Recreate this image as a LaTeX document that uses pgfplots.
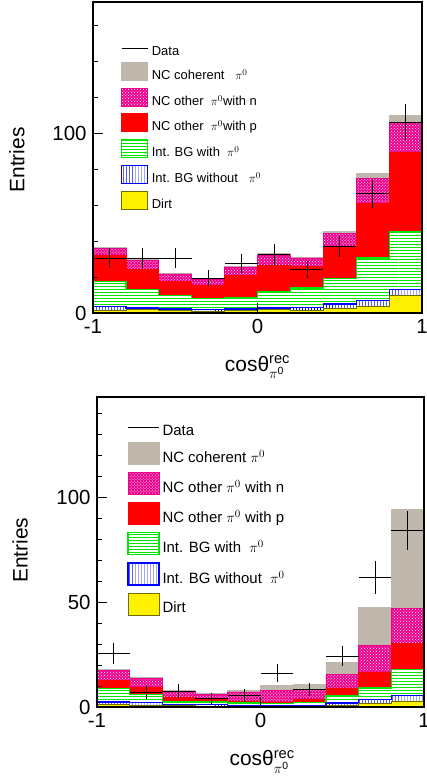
\documentclass[border=0pt]{standalone}
\usepackage{amsmath}
\usepackage{fontspec}
\setmainfont{Liberation Sans}
\usepackage{pgfplots}
\usepackage{pgfplotstable}
\pgfplotsset{compat=1.18}
\usetikzlibrary{patterns}

\definecolor{cohgray}{RGB}{191,182,172}
\definecolor{dirtedge}{RGB}{110,110,0}
\definecolor{bggreen}{RGB}{0,230,0}

% cumulative stacked tops per bin (left edges, last row repeats last bin)
\pgfplotstableread{
x coh oth oph bgp bgn dirt
-1.0 36.7 36.1 31.9 17.6 3.5 1.5
-0.8 30.6 29.1 24.4 13.0 2.8 1.9
-0.6 22.2 21.7 17.6 9.6 2.2 1.5
-0.4 19.4 18.9 15.2 8.1 1.9 0.9
-0.2 26.1 25.6 21.1 8.7 2.2 1.5
0.0 33.3 31.9 26.3 12.0 2.8 1.9
0.2 31.1 30.6 25.9 13.9 3.1 1.5
0.4 45.4 44.4 37.0 19.4 5.0 2.8
0.6 77.4 74.6 61.1 30.6 6.9 3.7
0.8 109.8 106.1 89.4 45.4 13.0 9.6
1.0 109.8 106.1 89.4 45.4 13.0 9.6
}\toptab
\pgfplotstableread{
x y e
-0.9 30.4 5.5
-0.7 30.4 5.5
-0.5 30.4 5.5
-0.3 19.3 4.4
-0.1 27.8 5.3
0.1 32.6 5.7
0.3 24.1 4.9
0.5 37.0 5.7
0.7 66.3 7.9
0.9 106.1 10.0
}\topdata
\pgfplotstableread{
x coh oth oph bgp bgn dirt
-1.0 18.0 17.3 12.5 8.8 2.4 1.1
-0.8 14.1 13.6 9.6 6.1 2.1 0.8
-0.6 8.0 7.5 4.5 2.4 1.3 0.6
-0.4 6.3 5.9 3.9 2.4 1.1 0.5
-0.2 8.0 7.2 2.9 1.9 0.8 0.3
0.0 10.1 8.0 2.4 1.6 0.6 0.3
0.2 10.9 8.3 3.5 2.1 0.6 0.3
0.4 21.3 15.7 9.1 5.6 1.9 1.0
0.6 47.4 29.2 16.4 9.1 3.5 1.6
0.8 94.4 46.9 30.2 18.0 5.6 2.9
1.0 94.4 46.9 30.2 18.0 5.6 2.9
}\bottab
\pgfplotstableread{
x y e
-0.9 25.7 5.0
-0.7 7.2 3.2
-0.5 7.7 3.2
-0.3 4.0 2.6
-0.1 5.6 3.0
0.1 16.1 4.3
0.3 8.5 3.2
0.5 24.4 4.8
0.7 61.8 7.8
0.9 84.3 9.3
}\botdata

\newcommand{\lgt}[1]{\raisebox{-4bp}[\height][\depth]{#1}}

\pgfplotsset{
  myaxis/.style={
    scale only axis, xmin=-1, xmax=1, ymin=0,
    enlargelimits=false, axis on top,
    axis line style={line width=1.1bp},
    tick align=inside, tick pos=left,
    major tick length=10bp, minor tick length=5bp,
    tick style={black, line width=1bp},
    xtick={-1,0,1}, xticklabels={-1,0,1},
    ticklabel style={font=\fontsize{20.5}{20.5}\selectfont},
    xticklabel style={yshift=-3bp},
    yticklabel style={xshift=-3bp},
    label style={font=\fontsize{21}{21}\selectfont},
    legend cell align=left,
    xlabel={cosθ$^{\text{rec}}_{\pi^{\text{0}}}$},
    ylabel={Entries},
  },
  sCoh/.style={fill=cohgray, draw=cohgray, line width=0.8bp},
  sOth/.style={fill=magenta, draw=magenta, line width=0.8bp, postaction={pattern=crosshatch dots, pattern color=white}},
  sOph/.style={fill=red, draw=red, line width=0.8bp},
  sBgp/.style={fill=white, draw=bggreen, line width=1.2bp, postaction={pattern=horizontal lines, pattern color=bggreen}},
  sBgn/.style={fill=white, draw=blue, line width=1.2bp, postaction={pattern=vertical lines, pattern color=blue}},
  sDirt/.style={fill=yellow, draw=dirtedge, line width=0.8bp},
  dataStyle/.style={draw=none, mark=none, forget plot,
    error bars/.cd, x dir=both, x fixed=0.1, y dir=both, y explicit,
    error mark=none, error bar style={draw=black, line width=0.7bp, solid}},
}

\begin{document}
\begin{tikzpicture}
\useasboundingbox (0,0) rectangle (427bp,-783bp);

% ---------------- top panel ----------------
\begin{axis}[myaxis,
  at={(93bp,-2bp)}, anchor=north west,
  width=329bp, height=311bp, ymax=173,
  ytick={0,100}, yticklabels={0,100},
  minor ytick={20,40,60,80,120,140,160},
  xlabel style={at={(axis description cs:0.5,-0.174)}, anchor=center},
  ylabel style={at={(axis description cs:-0.231,0.492)}, anchor=center},
  legend style={at={(axis description cs:0.076,0.882)}, anchor=north west,
    draw=none, fill=none, row sep=6.8bp, column sep=1.5bp,
    font=\fontsize{13}{15}\selectfont},
  legend image code/.code={\draw[#1] (0bp,-9bp) rectangle (26bp,9bp);},
]
\addlegendimage{legend image code/.code={\draw[black, line width=0.7bp] (0bp,0bp) -- (26bp,0bp);}}
\addlegendentry{\lgt{Data}}
\addlegendimage{sCoh}\addlegendentry{\lgt{NC coherent \ \ $\pi^0$}}
\addlegendimage{sOth}\addlegendentry{\lgt{NC other \ $\pi^0$with n}}
\addlegendimage{sOph}\addlegendentry{\lgt{NC other \ $\pi^0$with p}}
\addlegendimage{sBgp}\addlegendentry{\lgt{Int. BG with \ $\pi^0$}}
\addlegendimage{sBgn}\addlegendentry{\lgt{Int. BG without \ \ $\pi^0$}}
\addlegendimage{sDirt}\addlegendentry{\lgt{Dirt}}

\addplot[const plot, sCoh, forget plot] table[x=x,y=coh]{\toptab} \closedcycle;
\addplot[const plot, sOth, forget plot] table[x=x,y=oth]{\toptab} \closedcycle;
\addplot[const plot, sOph, forget plot] table[x=x,y=oph]{\toptab} \closedcycle;
\addplot[const plot, sBgp, forget plot] table[x=x,y=bgp]{\toptab} \closedcycle;
\addplot[const plot, sBgn, forget plot] table[x=x,y=bgn]{\toptab} \closedcycle;
\addplot[const plot, sDirt, forget plot] table[x=x,y=dirt]{\toptab} \closedcycle;
\addplot[dataStyle] table[x=x,y=y,y error=e]{\topdata};
\end{axis}

% ---------------- bottom panel ----------------
\begin{axis}[myaxis,
  at={(97bp,-397bp)}, anchor=north west,
  width=327bp, height=310bp, ymax=148,
  ytick={0,50,100}, yticklabels={0,50,100},
  minor ytick={10,20,30,40,60,70,80,90,110,120,130,140},
  xlabel style={at={(axis description cs:0.505,-0.177)}, anchor=center},
  ylabel style={at={(axis description cs:-0.235,0.506)}, anchor=center},
  legend style={at={(axis description cs:0.083,0.936)}, anchor=north west,
    draw=none, fill=none, row sep=7.2bp, column sep=1bp,
    font=\fontsize{15}{17}\selectfont},
  legend image code/.code={\draw[#1] (0bp,-11bp) rectangle (31bp,11bp);},
]
\addlegendimage{legend image code/.code={\draw[black, line width=0.7bp] (0bp,0bp) -- (31bp,0bp);}}
\addlegendentry{\lgt{Data}}
\addlegendimage{sCoh}\addlegendentry{\lgt{NC coherent $\pi^0$}}
\addlegendimage{sOth}\addlegendentry{\lgt{NC other $\pi^0$ with n}}
\addlegendimage{sOph}\addlegendentry{\lgt{NC other $\pi^0$ with p}}
\addlegendimage{sBgp}\addlegendentry{\lgt{Int. BG with \ $\pi^0$}}
\addlegendimage{sBgn}\addlegendentry{\lgt{Int. BG without \ $\pi^0$}}
\addlegendimage{sDirt}\addlegendentry{\lgt{Dirt}}

\addplot[const plot, sCoh, forget plot] table[x=x,y=coh]{\bottab} \closedcycle;
\addplot[const plot, sOth, forget plot] table[x=x,y=oth]{\bottab} \closedcycle;
\addplot[const plot, sOph, forget plot] table[x=x,y=oph]{\bottab} \closedcycle;
\addplot[const plot, sBgp, forget plot] table[x=x,y=bgp]{\bottab} \closedcycle;
\addplot[const plot, sBgn, forget plot] table[x=x,y=bgn]{\bottab} \closedcycle;
\addplot[const plot, sDirt, forget plot] table[x=x,y=dirt]{\bottab} \closedcycle;
\addplot[dataStyle] table[x=x,y=y,y error=e]{\botdata};
\end{axis}
\end{tikzpicture}
\end{document}
